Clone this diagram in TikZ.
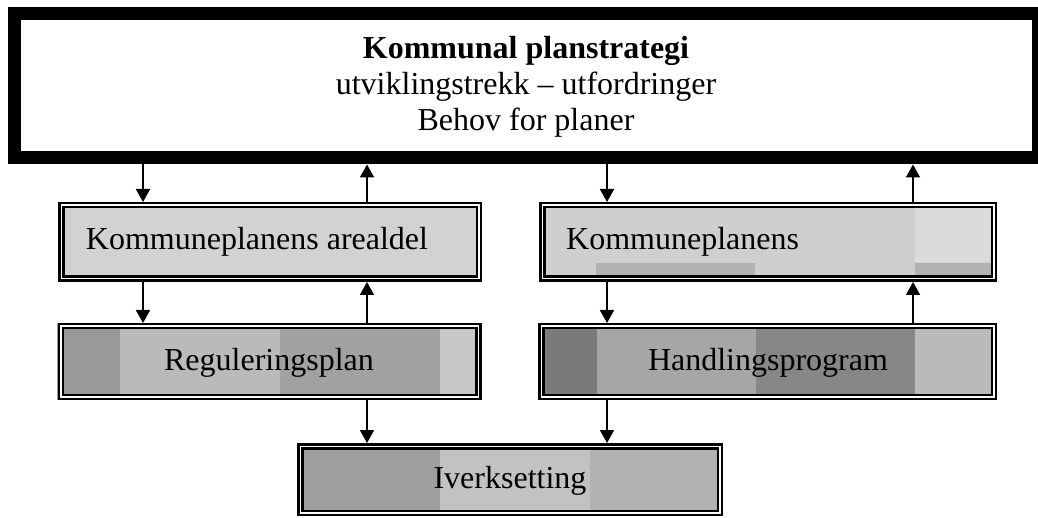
\documentclass[tikz,border=0pt]{standalone}
\usepackage{fontspec}
\setmainfont{Liberation Serif}
\usetikzlibrary{arrows.meta}
\begin{document}
\begin{tikzpicture}[x=1pt,y=-1pt,
  frame/.style={draw=black,line width=13pt,inner sep=0pt,outer sep=6.5pt},
  dbox/.style={draw=black,line width=2.5pt,double=white,double distance=1.5pt,
               inner sep=0pt,outer sep=3.25pt},
  lbl/.style={anchor=base,inner sep=0pt,font=\fontsize{32}{36}\selectfont},
  flow/.style={line width=1.8pt,-{Triangle[width=14pt,length=13pt]}}]
\clip (0,0) rectangle (1038,518);
\fill[white] (0,0) rectangle (1038,518);

% shaded fills behind the boxes
\fill[gray!35] (58,202) rectangle (482,282);
\fill[gray!38] (539,202) rectangle (997,282);
\fill[gray!28] (915,202) rectangle (997,262);
\fill[black!30] (596,263) rectangle (755,282);
\fill[black!30] (915,263) rectangle (997,282);
\fill[black!40] (57,323) rectangle (120,400);
\fill[black!27] (120,323) rectangle (280,400);
\fill[black!37] (280,323) rectangle (440,400);
\fill[black!22] (440,323) rectangle (482,400);
\fill[black!52] (538,323) rectangle (597,400);
\fill[black!35] (597,323) rectangle (756,400);
\fill[black!47] (756,323) rectangle (915,400);
\fill[black!27] (915,323) rectangle (997,400);
\fill[black!38] (297,443) rectangle (440,516);
\fill[black!24] (440,443) rectangle (590,516);
\fill[black!30] (590,443) rectangle (723,516);

% boxes
\node[frame,minimum width=1024.5pt,minimum height=144.5pt] (top) at (526.25,85.75) {};
\node[dbox,minimum width=417.5pt,minimum height=73.5pt] (ka) at (270,242) {};
\node[dbox,minimum width=451.5pt,minimum height=73.5pt] (kt) at (768,242) {};
\node[dbox,minimum width=417.5pt,minimum height=70.5pt] (reg) at (269.5,361.5) {};
\node[dbox,minimum width=452.5pt,minimum height=70.5pt] (hand) at (767.5,361.5) {};
\node[dbox,minimum width=419.5pt,minimum height=66.5pt] (iv) at (510,479.5) {};

% texts
\node[lbl] (t1) at (526,59) {\textbf{Kommunal planstrategi}};
\node[lbl] (t2) at (526,95) {utviklingstrekk – utfordringer};
\node[lbl] (t3) at (526,131) {Behov for planer};
\node[lbl] (tka) at (257,250) {Kommuneplanens arealdel};
\node[lbl,anchor=base west] (tkt) at (566,250) {Kommuneplanens};
\node[lbl] (treg) at (269,370) {Reguleringsplan};
\node[lbl] (thand) at (768,370) {Handlingsprogram};
\node[lbl] (tiv) at (510,488) {Iverksetting};

% connector columns
\coordinate (cA) at (143,0);
\coordinate (cB) at (367,0);
\coordinate (cC) at (607,0);
\coordinate (cD) at (913,0);

% connectors
\draw[flow] (top.south -| cA) -- (ka.north -| cA);
\draw[flow] (ka.north -| cB) -- (top.south -| cB);
\draw[flow] (top.south -| cC) -- (kt.north -| cC);
\draw[flow] (kt.north -| cD) -- (top.south -| cD);
\draw[flow] (ka.south -| cA) -- (reg.north -| cA);
\draw[flow] (reg.north -| cB) -- (ka.south -| cB);
\draw[flow] (kt.south -| cC) -- (hand.north -| cC);
\draw[flow] (hand.north -| cD) -- (kt.south -| cD);
\draw[flow] (reg.south -| cB) -- (iv.north -| cB);
\draw[flow] (hand.south -| cC) -- (iv.north -| cC);
\end{tikzpicture}
\end{document}
